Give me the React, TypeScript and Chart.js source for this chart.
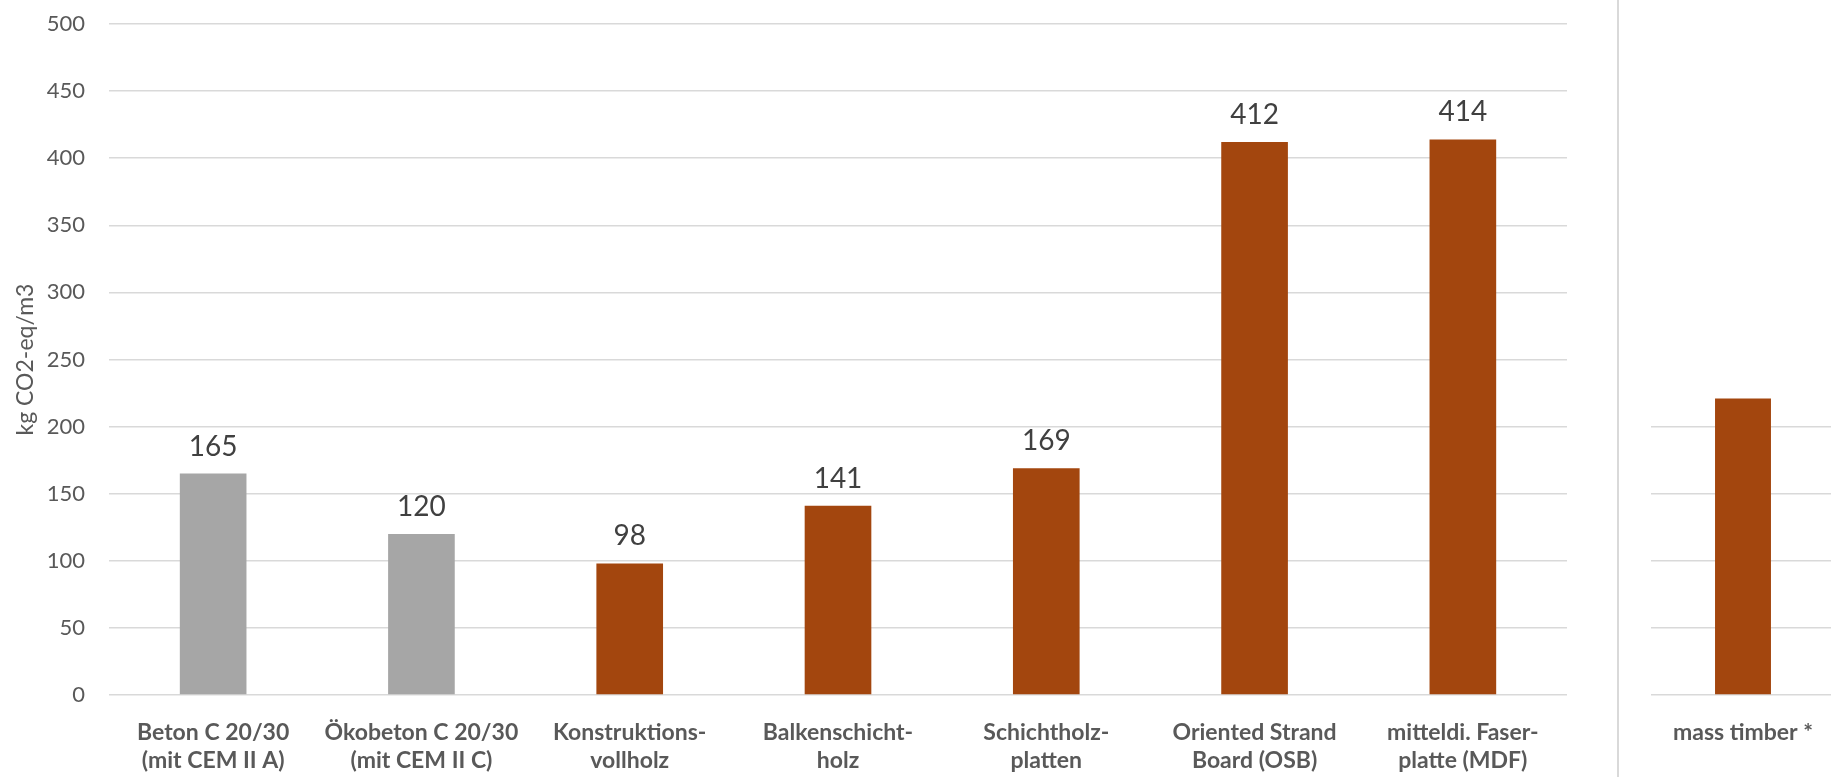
import React, { useEffect, useRef } from "react";
import { Chart, registerables } from "chart.js";

Chart.register(...registerables);

// Embodied carbon per cubic metre of building material
const materialLabels: string[][] = [
  ["Beton C 20/30", "(mit CEM II A)"],
  ["Ökobeton C 20/30", "(mit CEM II C)"],
  ["Konstruktions-", "vollholz"],
  ["Balkenschicht-", "holz"],
  ["Schichtholz-", "platten"],
  ["Oriented Strand", "Board (OSB)"],
  ["mitteldi. Faser-", "platte (MDF)"],
];
const materialValues: number[] = [165, 120, 98, 141, 169, 412, 414];
const materialKinds: string[] = ["beton", "beton", "holz", "holz", "holz", "holz", "holz"];

const massTimberLabels: string[] = ["mass timber *"];
const massTimberValues: number[] = [221];

const yMin = 0;
const yMax = 500;
const yStep = 50;
const massTimberGridTop = 200;

const axisTitle = "kg CO2-eq/m3";

const KIND_COLORS: Record<string, string> = { beton: "#a6a6a6", holz: "#a3460e" };
const GRID = "#d9d9d9";
const TEXT = "#595959";
const FONT = "Lato, 'Open Sans', sans-serif";

const valueLabels = {
  id: "valueLabels",
  afterDatasetsDraw(chart: any) {
    const { ctx } = chart;
    const meta = chart.getDatasetMeta(0);
    const data = chart.data.datasets[0].data as number[];
    ctx.save();
    ctx.font = `28px ${FONT}`;
    ctx.fillStyle = "#404040";
    ctx.textAlign = "center";
    ctx.textBaseline = "alphabetic";
    meta.data.forEach((bar: any, i: number) => {
      ctx.fillText(String(data[i]), bar.x, bar.y - 18);
    });
    ctx.restore();
  },
};

function xAxis() {
  return {
    grid: { display: false },
    border: { display: false },
    ticks: {
      autoSkip: false,
      maxRotation: 0,
      minRotation: 0,
      padding: 16,
      color: TEXT,
      font: { family: FONT, size: 23, weight: "bold" as const, lineHeight: 28 / 23 },
    },
    afterFit(scale: any) {
      scale.height = 82;
    },
  };
}

export default function App() {
  const mainRef = useRef<HTMLCanvasElement>(null);
  const sideRef = useRef<HTMLCanvasElement>(null);

  useEffect(() => {
    document.body.style.margin = "0";
    document.body.style.background = "#ffffff";

    const main = new Chart(mainRef.current!, {
      type: "bar",
      data: {
        labels: materialLabels,
        datasets: [
          {
            data: materialValues,
            backgroundColor: materialKinds.map((k) => KIND_COLORS[k]),
            barPercentage: 0.32,
            categoryPercentage: 1,
          },
        ],
      },
      options: {
        responsive: false,
        animation: false,
        devicePixelRatio: 1,
        layout: { padding: { top: 24, right: 33, bottom: 0, left: 0 } },
        plugins: { legend: { display: false }, tooltip: { enabled: false } },
        scales: {
          x: xAxis(),
          y: {
            min: yMin,
            max: yMax,
            border: { display: false },
            grid: { color: GRID, lineWidth: 1.5, drawTicks: false },
            ticks: {
              stepSize: yStep,
              padding: 24,
              color: TEXT,
              font: { family: FONT, size: 22 },
            },
            title: {
              display: true,
              text: axisTitle,
              color: TEXT,
              font: { family: FONT, size: 23 },
              padding: { top: 12, bottom: 0 },
            },
            afterFit(scale: any) {
              scale.width = 109;
              scale.paddingTop = 0;
              scale.paddingBottom = 0;
            },
          },
        },
      },
      plugins: [valueLabels],
    });

    const side = new Chart(sideRef.current!, {
      type: "bar",
      data: {
        labels: massTimberLabels,
        datasets: [
          {
            data: massTimberValues,
            backgroundColor: KIND_COLORS.holz,
            barPercentage: 0.304,
            categoryPercentage: 1,
          },
        ],
      },
      options: {
        responsive: false,
        animation: false,
        devicePixelRatio: 1,
        layout: { padding: { top: 24, right: 15, bottom: 0, left: 0 } },
        plugins: { legend: { display: false }, tooltip: { enabled: false } },
        scales: {
          x: xAxis(),
          y: {
            min: yMin,
            max: yMax,
            border: { display: false },
            grid: {
              drawTicks: false,
              lineWidth: 1.5,
              color: (c: any) =>
                c.tick && c.tick.value > massTimberGridTop ? "rgba(0,0,0,0)" : GRID,
            },
            ticks: { stepSize: yStep, display: false },
            afterFit(scale: any) {
              scale.width = 51;
              scale.paddingTop = 0;
              scale.paddingBottom = 0;
            },
          },
        },
      },
    });

    return () => {
      main.destroy();
      side.destroy();
    };
  }, []);

  return (
    <div
      style={{
        position: "fixed",
        left: 0,
        top: 0,
        width: 1831,
        height: 777,
        overflow: "hidden",
        background: "#ffffff",
      }}
    >
      <canvas
        ref={mainRef}
        width={1600}
        height={777}
        style={{ position: "absolute", left: 0, top: 0, width: 1600, height: 777 }}
      />
      <div
        style={{
          position: "absolute",
          left: 1617,
          top: 0,
          width: 2,
          height: 777,
          background: GRID,
        }}
      />
      <canvas
        ref={sideRef}
        width={250}
        height={777}
        style={{ position: "absolute", left: 1600, top: 0, width: 250, height: 777 }}
      />
    </div>
  );
}
